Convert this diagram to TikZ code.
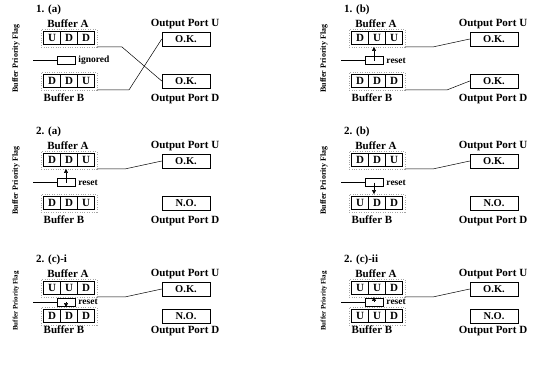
\documentclass[tikz,border=0pt]{standalone}
\usepackage{fontspec}
\setmainfont{Liberation Serif}
\usetikzlibrary{arrows.meta,fit}

\tikzset{
  cell/.style={draw, line width=0.5pt, minimum width=17pt, minimum height=13pt,
    inner sep=0pt, font=\fontsize{11}{12}\selectfont\bfseries},
  portbox/.style={draw, line width=0.5pt, minimum width=48pt, minimum height=14pt,
    inner sep=0pt, font=\fontsize{10.5}{12}\selectfont\bfseries},
  flagbox/.style={draw, line width=0.5pt, minimum width=18pt, minimum height=8pt, inner sep=0pt},
  lbl/.style={font=\fontsize{11}{12}\selectfont\bfseries, inner sep=0pt},
  flaglbl/.style={font=\fontsize{9.5}{11}\selectfont\bfseries, inner sep=0pt, anchor=west},
  bufframe/.style={draw=black!35, dotted, line width=0.4pt, inner sep=2pt},
  wire/.style={line width=0.5pt},
  ptr/.style={line width=0.5pt, -{Triangle[length=4pt,width=4pt]}},
}

% #1 name prefix, #2/#3 panel origin, #4 spacing of the two buffers,
% #5 title, #6 flag state, #7 state of port D, #8 buffer A, #9 buffer B
\newcommand{\drawpanel}[9]{%
  \begin{scope}[shift={(#2,#3)}]
    \pgfmathsetmacro{\By}{38+#4}
    \pgfmathsetmacro{\Fy}{38+0.58*#4-2.2}
    \pgfmathsetmacro{\BLy}{\By+8+#4/5}
    \pgfmathsetmacro{\vfs}{5.0+0.07*#4}
    \node[lbl, anchor=west] (#1-title) at (36,10) {#5};
    \node[font=\fontsize{\vfs}{\vfs}\selectfont\bfseries, rotate=90, inner sep=0pt]
      (#1-flagname) at (16,{(38+\By)/2-1}) {Buffer Priority Flag};
    % buffer A
    \node[lbl] (#1-nameA) at (68,24) {Buffer A};
    \foreach \ltr [count=\i] in {#8} {
      \node[cell] (#1-A\i) at ({35+17*\i},38) {\ltr};
    }
    \node[bufframe, fit=(#1-A1)(#1-A3)] (#1-Af) {};
    % priority flag
    \node[flagbox] (#1-fb) at (66,\Fy) {};
    \node[flaglbl] (#1-fl) at ([xshift=3pt]#1-fb.east) {#6};
    \coordinate (#1-fs) at (33,\Fy);
    \draw[wire] (#1-fs) -- (#1-fb);
    % buffer B
    \foreach \ltr [count=\i] in {#9} {
      \node[cell] (#1-B\i) at ({35+17*\i},\By) {\ltr};
    }
    \node[bufframe, fit=(#1-B1)(#1-B3)] (#1-Bf) {};
    \node[lbl] (#1-nameB) at (64,\BLy) {Buffer B};
    % output ports
    \node[lbl] (#1-nameU) at (185,24) {Output Port U};
    \node[portbox] (#1-U) at (186,39) {O.K.};
    \node[portbox] (#1-D) at (186,\By) {#7};
    \node[lbl] (#1-nameD) at (185,{\BLy+1}) {Output Port D};
  \end{scope}%
}

\begin{document}
\begin{tikzpicture}[x=1pt,y=-1pt]
\useasboundingbox (0,0) rectangle (552,365);
\fill[white] (0,0) rectangle (552,365);

\drawpanel{pa}{0}{0}{43}{1. (a)}{ignored}{O.K.}{U,D,D}{D,D,U}
\drawpanel{pb}{308}{0}{43}{1. (b)}{reset}{O.K.}{D,U,U}{D,D,D}
\drawpanel{pc}{0}{122}{43}{2. (a)}{reset}{N.O.}{D,D,U}{D,D,U}
\drawpanel{pd}{308}{122}{43}{2. (b)}{reset}{N.O.}{D,D,U}{U,D,D}
\drawpanel{pe}{0}{250}{28}{2. (c)-i}{reset}{N.O.}{U,U,D}{D,D,D}
\drawpanel{pf}{308}{250}{28}{2. (c)-ii}{reset}{N.O.}{U,U,D}{U,U,D}

% 1. (a): both heads served, flag ignored
\draw[wire] (pa-Af.south east) -- ++(25,0) -- (pa-D.west);
\draw[wire] (pa-Bf.south east) -- ++(32,0) -- (pa-U.west);

% 1. (b)
\draw[wire] (pb-Af.south east) -- ++(28,0) -- (pb-U.west);
\draw[wire] (pb-Bf.south east) -- ++(42,0) -- (pb-D.west);
\draw[ptr] (pb-fb.center) -- (pb-fb.center |- pb-Af.south);

% 2. (a)
\draw[wire] (pc-Af.south east) -- ++(28,0) -- (pc-U.west);
\draw[ptr] (pc-fb.center) -- (pc-fb.center |- pc-Af.south);

% 2. (b)
\draw[wire] (pd-Af.south east) -- ++(28,0) -- (pd-U.west);
\draw[ptr] (pd-fb.center) -- (pd-fb.center |- pd-Bf.north);

% 2. (c)-i
\draw[wire] (pe-Af.south east) -- ++(28,0) -- (pe-U.west);
\draw[ptr] (pe-fb.center) -- (pe-fb.center |- pe-Bf.north);

% 2. (c)-ii
\draw[wire] (pf-Af.south east) -- ++(28,0) -- (pf-U.west);
\draw[ptr] (pf-fb.center) -- (pf-fb.center |- pf-Af.south);
\end{tikzpicture}
\end{document}
